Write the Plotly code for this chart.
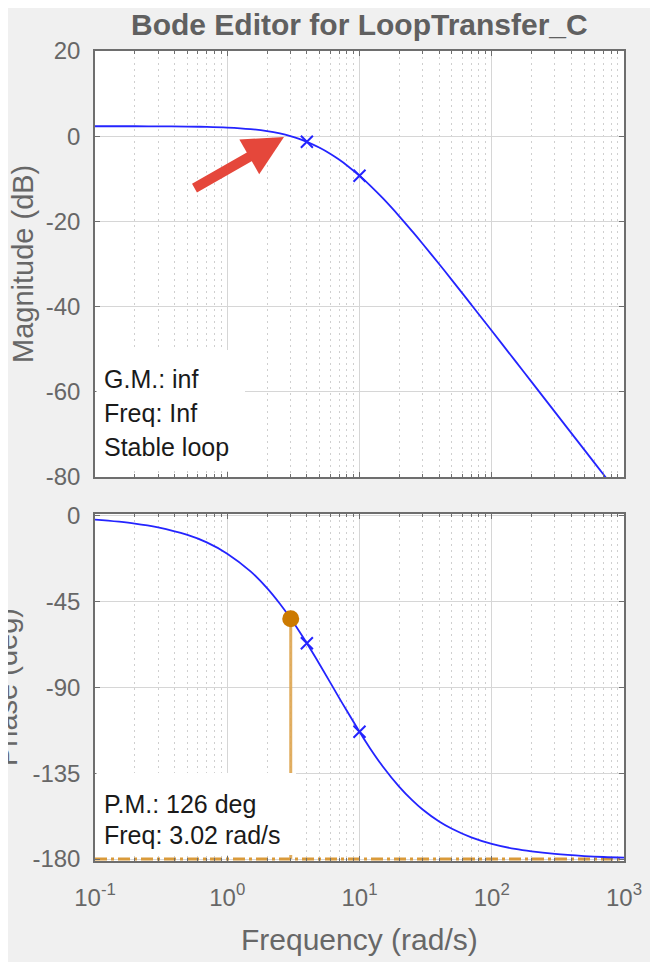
import plotly.graph_objects as go

# ---------------- data ----------------
freq = [0.1, 0.2, 0.3, 0.5, 0.7, 1, 1.5, 2, 2.5, 3, 3.5, 4, 5, 6, 7, 8, 10, 12, 15,
        20, 25, 30, 40, 50, 70, 100, 150, 200, 300, 500, 700, 1000]
mag_db = [2.34, 2.33, 2.31, 2.26, 2.19, 2.03, 1.67, 1.20, 0.64, 0.03, -0.63, -1.32,
          -2.72, -4.12, -5.48, -6.80, -9.27, -11.54, -14.56, -18.80, -22.29, -25.24,
          -30.01, -33.78, -39.53, -45.67, -52.69, -57.67, -64.71, -73.58, -79.42, -85.62]
phase_deg = [-2.0, -4.0, -6.0, -10.0, -13.9, -19.8, -29.1, -37.9, -46.1, -53.6, -60.5,
             -66.8, -77.9, -87.3, -95.3, -102.1, -113.2, -121.8, -131.4, -142.1, -149.1,
             -154.0, -160.3, -164.1, -168.6, -172.0, -174.7, -176.0, -177.3, -178.4,
             -178.9, -179.2]

pole_freq = [4, 10]
pole_mag_db = [-1.32, -9.27]
pole_phase_deg = [-66.8, -113.2]

pm_freq = [3.02]
pm_phase = [-54.0]
phase_floor = -180
line_span = [0.1, 1000]

x_tickvals = [0.1, 1, 10, 100, 1000]
x_ticktext = ["10<sup>-1</sup>", "10<sup>0</sup>", "10<sup>1</sup>",
              "10<sup>2</sup>", "10<sup>3</sup>"]
mag_ticks = [20, 0, -20, -40, -60, -80]
phase_ticks = [0, -45, -90, -135, -180]

title_text = "Bode Editor for LoopTransfer_C"
gm_lines = ["G.M.: inf", "Freq: Inf", "Stable loop"]
pm_lines = ["P.M.: 126 deg", "Freq: 3.02 rad/s"]

# ---------------- layout geometry (page pixels; page has 8px body margin) ----------------
W, H = 658, 962
OFF = 8
L, R = 95, 624
TOP_T, TOP_B = 51, 477
BOT_T, BOT_B = 514, 861
PW, PH = R - L, BOT_B - TOP_T


def px_x(x):
    return (x - L) / PW


def px_y(y):
    return (BOT_B - y) / PH


minor_vals = [m * 10 ** e for e in range(-1, 3) for m in range(2, 10)]

BLUE = "#2424ff"
AXC = "#6e6e6e"
TICKC = "#676767"
FONT = "Liberation Sans, Arial, sans-serif"

fig = go.Figure()

# magnitude
fig.add_trace(go.Scatter(x=freq, y=mag_db, mode="lines", xaxis="x", yaxis="y",
                         line=dict(color=BLUE, width=1.8, shape="spline"),
                         hoverinfo="skip", showlegend=False))
fig.add_trace(go.Scatter(x=pole_freq, y=pole_mag_db, mode="markers", xaxis="x", yaxis="y",
                         marker=dict(symbol="x-thin", size=12, line=dict(color=BLUE, width=2)),
                         showlegend=False))

# phase
fig.add_trace(go.Scatter(x=line_span, y=[phase_floor, phase_floor], mode="lines",
                         xaxis="x2", yaxis="y2",
                         line=dict(color="#d99a3a", width=3, dash="12px,4px,3px,4px"),
                         showlegend=False))
fig.add_trace(go.Scatter(x=pm_freq * 2, y=[phase_floor, pm_phase[0]], mode="lines",
                         xaxis="x2", yaxis="y2",
                         line=dict(color="rgba(222,165,80,0.9)", width=3),
                         showlegend=False))
fig.add_trace(go.Scatter(x=freq, y=phase_deg, mode="lines", xaxis="x2", yaxis="y2",
                         line=dict(color=BLUE, width=1.8, shape="spline"),
                         showlegend=False))
fig.add_trace(go.Scatter(x=pole_freq, y=pole_phase_deg, mode="markers", xaxis="x2", yaxis="y2",
                         marker=dict(symbol="x-thin", size=12, line=dict(color=BLUE, width=2)),
                         showlegend=False))
fig.add_trace(go.Scatter(x=pm_freq, y=pm_phase, mode="markers", xaxis="x2", yaxis="y2",
                         marker=dict(size=17, color="#cc7a00"),
                         showlegend=False))

xcommon = dict(type="log", range=[-1, 3], tickmode="array", tickvals=x_tickvals,
               showline=True, mirror="allticks", linecolor=AXC, linewidth=1.5,
               ticks="inside", ticklen=5, tickcolor=AXC, tickwidth=1,
               showgrid=True, gridcolor="#d6d6d6", gridwidth=1, zeroline=False,
               minor=dict(tickmode="array", tickvals=minor_vals, ticks="inside",
                          ticklen=3, tickcolor=AXC, showgrid=True,
                          gridcolor="#cfcfcf", griddash="2px,4px", gridwidth=1))
ycommon = dict(tickmode="array", showline=True, mirror="ticks", linecolor=AXC,
               linewidth=1.5, ticks="inside", ticklen=5, tickcolor=AXC,
               showgrid=True, gridcolor="#d6d6d6", gridwidth=1, zeroline=False,
               tickfont=dict(family=FONT, size=24, color=TICKC),
               ticklabelstandoff=8)

fig.update_layout(
    width=W, height=H,
    margin=dict(l=L - OFF, r=W - (R - OFF), t=TOP_T - OFF, b=H - (BOT_B - OFF), pad=0),
    paper_bgcolor="#f0f0f0", plot_bgcolor="white",
    showlegend=False,
    xaxis=dict(xcommon, anchor="y", showticklabels=False, ticktext=x_ticktext),
    yaxis=dict(ycommon, domain=[px_y(TOP_B), 1], range=[-80, 20], anchor="x",
               tickvals=mag_ticks, ticktext=[str(v) for v in mag_ticks]),
    xaxis2=dict(xcommon, anchor="y2", showticklabels=True, ticktext=x_ticktext,
                tickfont=dict(family=FONT, size=24, color=TICKC), ticklabelstandoff=14),
    yaxis2=dict(ycommon, domain=[0, px_y(BOT_T)], range=[-181.0, 1.0], anchor="x2",
                tickvals=phase_ticks, ticktext=[str(v) for v in phase_ticks]),
)

shapes = [
    # text boxes
    dict(type="rect", xref="paper", yref="paper", x0=px_x(96.5), x1=px_x(245),
         y0=px_y(471), y1=px_y(350), fillcolor="white", line=dict(width=0), layer="above"),
    dict(type="rect", xref="paper", yref="paper", x0=px_x(96.5), x1=px_x(296),
         y0=px_y(855), y1=px_y(773), fillcolor="white", line=dict(width=0), layer="above"),
]

ann = []
ann.append(dict(text="<b>" + title_text + "</b>", x=px_x(359.5), y=px_y(25),
                xref="paper", yref="paper", showarrow=False, xanchor="center", yanchor="middle",
                font=dict(family=FONT, size=30, color="#606060")))
ann.append(dict(text="Magnitude (dB)", x=px_x(23), y=px_y(264), textangle=-90,
                xref="paper", yref="paper", showarrow=False, xanchor="center", yanchor="middle",
                font=dict(family=FONT, size=29, color=TICKC)))
ann.append(dict(text="Phase (deg)", x=px_x(7), y=px_y(687), textangle=-90,
                xref="paper", yref="paper", showarrow=False, xanchor="center", yanchor="middle",
                font=dict(family=FONT, size=29, color=TICKC)))
ann.append(dict(text="Frequency (rad/s)", x=px_x(359.5), y=px_y(940),
                xref="paper", yref="paper", showarrow=False, xanchor="center", yanchor="middle",
                font=dict(family=FONT, size=30, color=TICKC)))
for i, t in enumerate(gm_lines):
    ann.append(dict(text=t, x=px_x(102), y=px_y(379 + 34 * i), xref="paper", yref="paper",
                    showarrow=False, xanchor="left", yanchor="middle",
                    font=dict(family=FONT, size=25, color="#1a1a1a")))
for i, t in enumerate(pm_lines):
    ann.append(dict(text=t, x=px_x(102), y=px_y(804 + 31 * i), xref="paper", yref="paper",
                    showarrow=False, xanchor="left", yanchor="middle",
                    font=dict(family=FONT, size=25, color="#1a1a1a")))
# red arrow
ann.append(dict(text="", x=px_x(284), y=px_y(137), xref="paper", yref="paper",
                showarrow=True, ax=-91, ay=52, arrowhead=2, arrowsize=0.8,
                arrowwidth=10, arrowcolor="#e5473b", standoff=0))

fig.update_layout(shapes=shapes, annotations=ann)

fig.write_html("out.html")
